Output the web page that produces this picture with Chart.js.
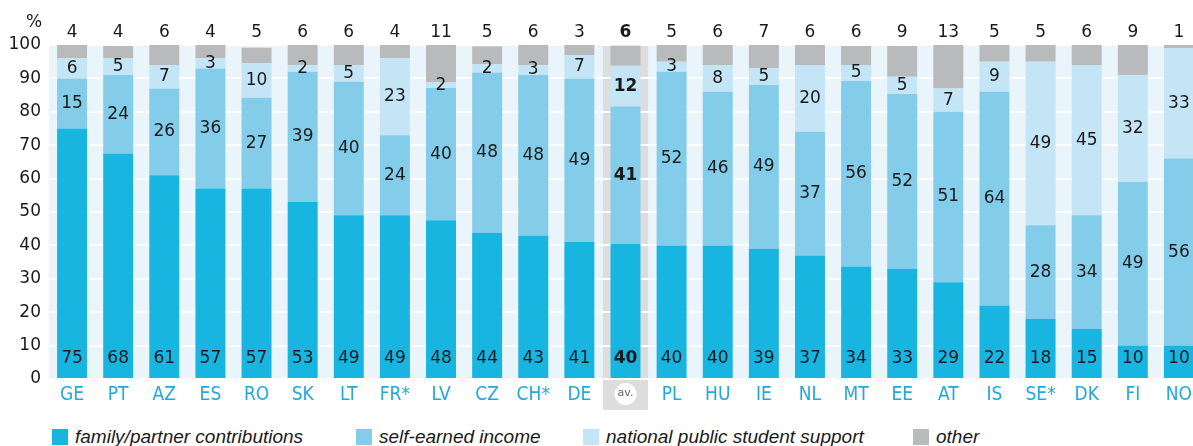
<!DOCTYPE html>
<html><head><meta charset="utf-8">
<script src="https://cdn.jsdelivr.net/npm/chart.js@4.4.1/dist/chart.umd.min.js"></script>
<style>
html,body{margin:0;padding:0;background:#fff;overflow:hidden;width:1193px;height:446px;position:relative;}
#wrap{position:absolute;left:0;top:0;width:1202px;height:415px;}
#legend{position:absolute;top:428px;left:0;width:1193px;height:18px;font:italic 19px 'Liberation Sans',Arial,sans-serif;color:#1a1a1a;}
.item{position:absolute;top:0;height:18px;display:flex;align-items:center;white-space:nowrap;}
.sw{width:16px;height:16px;margin-right:7px;flex:none;}
</style></head><body>
<div id="wrap"><canvas id="c"></canvas></div>
<div id="legend"></div>
<script>
const categories = ['GE','PT','AZ','ES','RO','SK','LT','FR*','LV','CZ','CH*','DE','av.','PL','HU','IE','NL','MT','EE','AT','IS','SE*','DK','FI','NO'];
const family     = [75,67.5,61,57,57,53,49,49,47.5,43.8,43,41,40.4,40,40,39,37,33.7,33,29,22,18,15,10,10];
const selfEarned = [15,23.5,26,36,27.2,39,40,24,39.6,48,48,49,41.2,52,46,49,37,55.5,52.3,51,64,28,34,49,56];
const national   = [6,5,7,3,10.4,2,5,23,1.7,2.4,3,7,12.2,3,8,5,20,4.8,5.2,7,9,49,45,32,33];
const other      = [4,3.7,6,4,4.6,6,6,4,11.2,5.4,6,3,6,5,6,7,6,5.7,9.2,13,5,5,6,9,1];
const seriesNames = ['family/partner contributions','self-earned income','national public student support','other'];
const yTicks = [0,10,20,30,40,50,60,70,80,90,100];
const avIndex = categories.indexOf('av.');

const colors = ['#19b5e1','#84cdea','#c4e5f5','#b9babb'];
const numFont = "'DejaVu Sans', sans-serif";
const catFont = "'Liberation Sans Narrow','DejaVu Sans Condensed','Roboto',sans-serif";

const bgPlugin = {
  id: 'bg',
  beforeDraw(chart) {
    const {ctx, chartArea: a, scales: {x}} = chart;
    ctx.save();
    ctx.fillStyle = '#e9f5fb';
    ctx.fillRect(a.left, a.top, a.right - a.left, a.bottom - a.top);
    const cw = (a.right - a.left) / categories.length;
    const cx = x.getPixelForValue(avIndex);
    ctx.fillStyle = '#dddddd';
    ctx.fillRect(cx - cw / 2 + 0.5, a.top, cw - 1, 410 - a.top);
    ctx.fillStyle = '#ffffff';
    ctx.beginPath();
    ctx.arc(cx, a.bottom + 15, 11, 0, Math.PI * 2);
    ctx.fill();
    ctx.restore();
  }
};

const labelPlugin = {
  id: 'lbls',
  afterDatasetsDraw(chart) {
    const {ctx, chartArea: a} = chart;
    ctx.save();
    ctx.textAlign = 'center';
    ctx.textBaseline = 'middle';
    ctx.fillStyle = '#1a1a1a';
    chart.data.datasets.forEach((ds, i) => {
      const meta = chart.getDatasetMeta(i);
      meta.data.forEach((el, j) => {
        const p = el.getProps(['x', 'y', 'base'], true);
        let ty;
        if (i === 0) ty = p.base - 19;
        else if (i === 3) ty = a.top - 12;
        else ty = (p.y + p.base) / 2;
        ctx.font = (j === avIndex ? 'bold ' : '') + '17px ' + numFont;
        ctx.fillText(String(Math.round(ds.data[j])), p.x, ty);
      });
    });
    ctx.font = '17px ' + numFont;
    ctx.fillText('%', a.left - 15, a.top - 22);
    ctx.restore();
  }
};

const seriesData = [family, selfEarned, national, other];
const chart = new Chart(document.getElementById('c'), {
  type: 'bar',
  data: {
    labels: categories,
    datasets: seriesData.map((d, i) => ({
      label: seriesNames[i],
      data: d,
      backgroundColor: colors[i],
      borderWidth: 0,
      categoryPercentage: 1,
      barPercentage: 0.65
    }))
  },
  options: {
    responsive: true,
    maintainAspectRatio: false,
    animation: false,
    layout: {padding: {top: 45, left: 0, right: 0, bottom: 0}},
    plugins: {legend: {display: false}, tooltip: {enabled: false}},
    scales: {
      x: {
        stacked: true,
        grid: {display: false, drawTicks: false},
        border: {display: false},
        afterFit(s) { s.height = 36; },
        ticks: {
          padding: 5,
          autoSkip: false,
          maxRotation: 0,
          color: c => c.index === avIndex ? '#666666' : '#23a7dd',
          font: c => c.index === avIndex ? {family: numFont, size: 11, lineHeight: 1.6} : {family: catFont, size: 19}
        }
      },
      y: {
        stacked: true,
        min: 0, max: 100,
        afterFit(s) { s.width = 49; },
        afterBuildTicks(s) { s.ticks = yTicks.map(v => ({value: v})); },
        grid: {color: '#ffffff', lineWidth: 2, drawTicks: false},
        border: {display: false},
        ticks: {padding: 8, color: '#1a1a1a', font: {family: numFont, size: 17}}
      }
    }
  },
  plugins: [bgPlugin, labelPlugin]
});

const legendLefts = [52, 356, 583, 913];
const lg = document.getElementById('legend');
seriesNames.forEach((n, i) => {
  const it = document.createElement('div');
  it.className = 'item';
  it.style.left = legendLefts[i] + 'px';
  it.innerHTML = '<span class="sw" style="background:' + colors[i] + '"></span><span>' + n + '</span>';
  lg.appendChild(it);
});
</script>
</body></html>
